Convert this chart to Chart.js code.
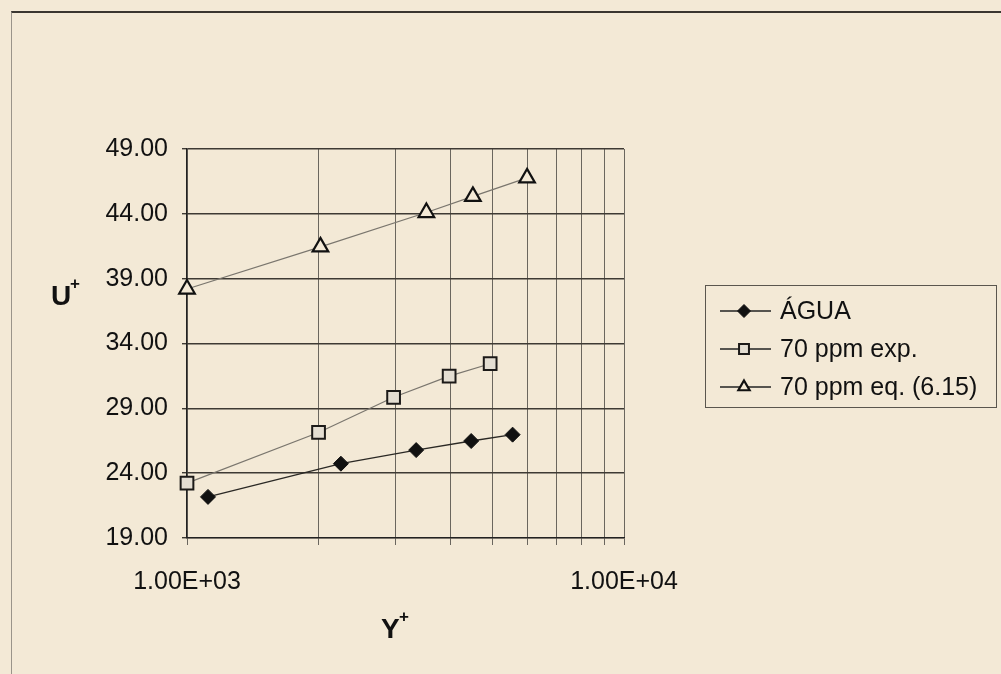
<!DOCTYPE html>
<html lang="pt">
<head>
  <meta charset="UTF-8">
  <title>U+ x Y+</title>
  <script src="https://cdn.jsdelivr.net/npm/chart.js"></script>
  <style>
    html, body { margin: 0; padding: 0; background: #f3e9d6; }
    #quadro { position: relative; width: 1001px; height: 674px; overflow: hidden; }
    #moldura {
      position: absolute; left: 11px; top: 11px; width: 1100px; height: 800px;
      border-top: 2px solid #3a3630; border-left: 1px solid #9a948a;
    }
    #grafico { position: absolute; left: 0; top: 0; }
  </style>
</head>
<body>
  <div id="quadro">
    <div id="moldura"></div>
    <canvas id="grafico" width="1001" height="674"></canvas>
  </div>

  <script>
    // Perfis de velocidade: Y+ (escala log) contra U+
    const nomes = ['ÁGUA', '70 ppm exp.', '70 ppm eq. (6.15)'];

    const aguaY = [1117, 2250, 3345, 4470, 5560];
    const aguaU = [22.17, 24.73, 25.78, 26.48, 26.97];

    const expY = [1000, 2000, 2970, 3980, 4940];
    const expU = [23.23, 27.14, 29.85, 31.48, 32.44];

    const eqY = [1000, 2020, 3530, 4510, 6000];
    const eqU = [38.2, 41.45, 44.1, 45.35, 46.77];

    const yTicks = [19, 24, 29, 34, 39, 44, 49];
    const xGrade = [1000, 2000, 3000, 4000, 5000, 6000, 7000, 8000, 9000, 10000];
    const xRotulos = [1000, 10000];

    const fundo = '#f3e9d6';
    const fonte = '"Liberation Sans", Arial, sans-serif';

    function pares(xs, ys) {
      return xs.map((x, i) => ({ x: x, y: ys[i] }));
    }

    function formatoE(v) {
      const exp = Math.round(Math.log10(v));
      const m = v / Math.pow(10, exp);
      return m.toFixed(2) + 'E+' + String(exp).padStart(2, '0');
    }

    // legenda com moldura, desenhada à direita do gráfico
    const legendaCaixa = {
      id: 'legendaCaixa',
      afterDraw(chart) {
        const ctx = chart.ctx;
        ctx.save();
        ctx.strokeStyle = '#5a564e';
        ctx.lineWidth = 1;
        ctx.strokeRect(705.5, 285.5, 291, 122);

        const linhasY = [311, 349, 387];
        const raios = [6.5, 7, 6.5];
        chart.data.datasets.forEach((ds, i) => {
          const y = linhasY[i];
          ctx.strokeStyle = '#222';
          ctx.lineWidth = 1.3;
          ctx.beginPath();
          ctx.moveTo(720, y);
          ctx.lineTo(771, y);
          ctx.stroke();

          ctx.fillStyle = ds.pointBackgroundColor;
          ctx.strokeStyle = ds.pointBorderColor;
          ctx.lineWidth = ds.pointBorderWidth;
          Chart.helpers.drawPoint(ctx, {
            pointStyle: ds.pointStyle,
            radius: raios[i],
            rotation: 0,
            borderWidth: ds.pointBorderWidth
          }, 744, y);

          ctx.fillStyle = '#111';
          ctx.font = '25px ' + fonte;
          ctx.textBaseline = 'middle';
          ctx.textAlign = 'left';
          ctx.fillText(ds.label, 780, y + 1);
        });
        ctx.restore();
      }
    };

    // títulos dos eixos com o "+" em sobrescrito
    const titulosEixos = {
      id: 'titulosEixos',
      afterDraw(chart) {
        const ctx = chart.ctx;
        ctx.save();
        ctx.fillStyle = '#111';
        ctx.textBaseline = 'alphabetic';
        ctx.textAlign = 'left';
        ctx.font = 'bold 28px ' + fonte;
        ctx.fillText('U', 51, 305);
        ctx.fillText('Y', 381, 638);
        ctx.font = 'bold 17px ' + fonte;
        ctx.fillText('+', 70, 289);
        ctx.fillText('+', 399, 622);
        ctx.restore();
      }
    };

    new Chart(document.getElementById('grafico'), {
      type: 'scatter',
      data: {
        datasets: [
          {
            label: nomes[0],
            data: pares(aguaY, aguaU),
            showLine: true,
            clip: false,
            borderColor: '#2a2824',
            borderWidth: 1.3,
            pointStyle: 'rectRot',
            pointRadius: 7.5,
            pointBackgroundColor: '#111',
            pointBorderColor: '#111',
            pointBorderWidth: 1
          },
          {
            label: nomes[1],
            data: pares(expY, expU),
            showLine: true,
            clip: false,
            borderColor: '#7a766e',
            borderWidth: 1.2,
            pointStyle: 'rect',
            pointRadius: 9,
            pointBackgroundColor: '#e4ded2',
            pointBorderColor: '#1c1a18',
            pointBorderWidth: 2
          },
          {
            label: nomes[2],
            data: pares(eqY, eqU),
            showLine: true,
            clip: false,
            borderColor: '#7a766e',
            borderWidth: 1.2,
            pointStyle: 'triangle',
            pointRadius: 9,
            pointBackgroundColor: fundo,
            pointBorderColor: '#111',
            pointBorderWidth: 2.2
          }
        ]
      },
      options: {
        responsive: false,
        animation: false,
        layout: { padding: { left: 0, top: 149, right: 377, bottom: 71 } },
        plugins: {
          legend: { display: false },
          tooltip: { enabled: false }
        },
        scales: {
          x: {
            type: 'logarithmic',
            min: 1000,
            max: 10000,
            afterFit(s) { s.height = 65; },
            afterBuildTicks(s) { s.ticks = xGrade.map(v => ({ value: v })); },
            border: { display: true, color: '#222', width: 1.3 },
            grid: { color: '#6a665e', lineWidth: 1, tickLength: 7, tickColor: '#6a665e' },
            ticks: {
              autoSkip: false,
              maxRotation: 0,
              padding: 22,
              color: '#111',
              font: { family: fonte, size: 25 },
              callback: (v) => xRotulos.includes(v) ? formatoE(v) : ''
            }
          },
          y: {
            min: yTicks[0],
            max: yTicks[yTicks.length - 1],
            afterFit(s) { s.width = 187; },
            afterBuildTicks(s) { s.ticks = yTicks.map(v => ({ value: v })); },
            border: { display: true, color: '#222', width: 1.3 },
            grid: { color: '#3e3a34', lineWidth: 1.4, tickLength: 5, tickColor: '#3e3a34' },
            ticks: {
              padding: 14,
              color: '#111',
              font: { family: fonte, size: 25 },
              callback: (v) => v.toFixed(2)
            }
          }
        }
      },
      plugins: [legendaCaixa, titulosEixos]
    });
  </script>
</body>
</html>
